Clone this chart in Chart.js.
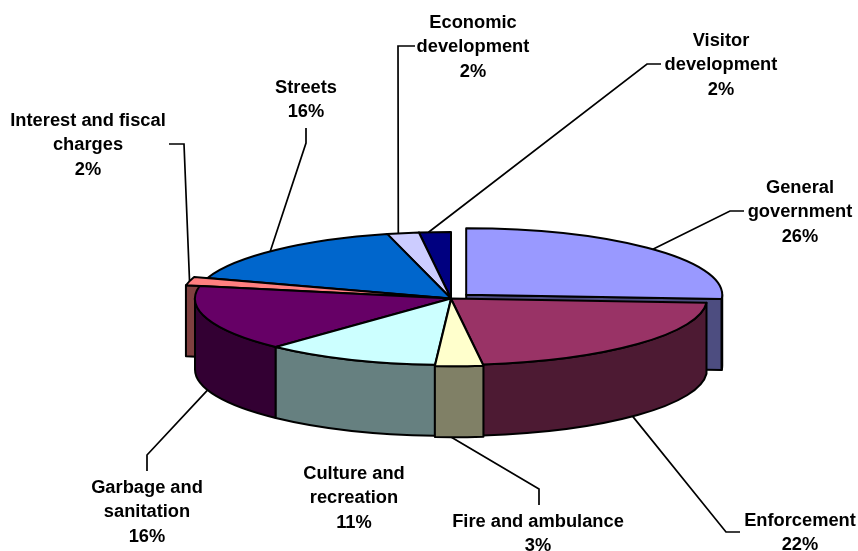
<!DOCTYPE html>
<html>
<head>
<meta charset="utf-8">
<title>Spending by function</title>
<style>
  html, body { margin: 0; padding: 0; background: #fff; }
  canvas { display: block; }
</style>
<script src="https://cdn.jsdelivr.net/npm/chart.js@4"></script>
</head>
<body>
<canvas id="spending" width="858" height="551"></canvas>
<script>
"use strict";

// data, clockwise from 12 o'clock
const categories = ['General government', 'Enforcement', 'Fire and ambulance', 'Culture and recreation',
  'Garbage and sanitation', 'Interest and fiscal charges', 'Streets', 'Economic development', 'Visitor development'];
const shares = [26, 22, 3, 11, 16, 2, 16, 2, 2];

// colours of the top faces and of the extruded sides
const topColors = ['#9999FF', '#993366', '#FFFFCC', '#CCFFFF', '#660066', '#FF8080', '#0066CC', '#CCCCFF', '#000080'];
const sideColors = ['#4D4D80', '#4D1A33', '#808066', '#668080', '#330033', '#804040', '#003366', '#666680', '#000040'];

// pulled out slices (Chart.js moves an arc by offset / 4)
const sliceOffsets = [84, 0, 10, 0, 0, 30, 0, 0, 0];

// label text wrapped per line, the percentage goes below it
const labelLines = [['General', 'government'], ['Enforcement'], ['Fire and ambulance'], ['Culture and', 'recreation'],
  ['Garbage and', 'sanitation'], ['Interest and fiscal', 'charges'], ['Streets'], ['Economic', 'development'], ['Visitor', 'development']];

// label centre x and first baseline y
const labelX = [800, 800, 538, 354, 147, 88, 306, 473, 721];
const labelY = [193, 526, 527, 479, 493, 126, 93, 28, 46];
const lineGap = 24.4;

// leader lines: label end and elbow, the last point is worked out on the rim
const leaderPaths = [
  [[744, 211], [730, 211]],
  [[740, 532], [726, 532]],
  [[539, 505], [539, 489]],
  null,
  [[147, 471], [147, 455]],
  [[169, 144], [184, 144]],
  [[306, 128], [306, 143]],
  [[415, 46], [398, 46]],
  [[661, 64], [647, 64]]
];

// how far along its slice's rim each leader lands
const leaderAlong = [0.5, 0.52, 0.66, 0.5, 0.5, 0.5, 0.47, 0.35, 0.3];

// the pie lying down: ellipse on the page and height of the rim
const pieX = 451;
const pieY = 298.5;
const pieRx = 256;
const pieRy = 66.5;
const pieDepth = 71;
const outlineWidth = 2;

// where an arc element ends up on the page once squashed
function sliceShape(arc) {
  const props = arc.getProps(['startAngle', 'endAngle', 'outerRadius', 'x', 'y'], true);
  const kx = pieRx / props.outerRadius;
  const ky = pieRy / props.outerRadius;
  const move = (arc.options.offset || 0) / 4;
  const mid = (props.startAngle + props.endAngle) / 2;
  const fix = 1 - Math.sin(Math.min(Math.PI, props.endAngle - props.startAngle));
  const radius = props.outerRadius + move * fix;
  return {
    start: props.startAngle,
    end: props.endAngle,
    mid: mid,
    x: pieX + Math.cos(mid) * move * kx,
    y: pieY + Math.sin(mid) * move * ky,
    rx: radius * kx,
    ry: radius * ky,
    kx: kx,
    ky: ky,
    cx: props.x,
    cy: props.y
  };
}

function drawWall(ctx, s, angle) {
  const px = s.x + Math.cos(angle) * s.rx;
  const py = s.y + Math.sin(angle) * s.ry;
  ctx.beginPath();
  ctx.moveTo(s.x, s.y);
  ctx.lineTo(px, py);
  ctx.lineTo(px, py + pieDepth);
  ctx.lineTo(s.x, s.y + pieDepth);
  ctx.closePath();
  ctx.fill();
  ctx.stroke();
}

function drawSide(ctx, s, color) {
  ctx.fillStyle = color;
  ctx.strokeStyle = '#000';
  ctx.lineWidth = outlineWidth;
  ctx.lineJoin = 'round';

  // only the walls turned towards the viewer
  if (Math.cos(s.start) < 0) drawWall(ctx, s, s.start);
  if (Math.cos(s.end) > 0) drawWall(ctx, s, s.end);

  // outer rim, lower half of the ellipse only
  const a0 = Math.max(s.start, 0);
  const a1 = Math.min(s.end, Math.PI);
  if (a1 > a0) {
    ctx.beginPath();
    ctx.ellipse(s.x, s.y, s.rx, s.ry, 0, a0, a1);
    ctx.ellipse(s.x, s.y + pieDepth, s.rx, s.ry, 0, a1, a0, true);
    ctx.closePath();
    ctx.fill();
    ctx.stroke();
  }
}

function drawTop(ctx, s, arc) {
  ctx.save();
  ctx.translate(pieX, pieY);
  ctx.scale(s.kx, s.ky);
  ctx.translate(-s.cx, -s.cy);
  arc.draw(ctx);
  ctx.restore();

  ctx.strokeStyle = '#000';
  ctx.lineWidth = outlineWidth;
  ctx.beginPath();
  ctx.moveTo(s.x, s.y);
  ctx.ellipse(s.x, s.y, s.rx, s.ry, 0, s.start, s.end);
  ctx.closePath();
  ctx.stroke();
}

function drawLeader(ctx, s, path, along) {
  const angle = s.start + (s.end - s.start) * along;
  const endX = s.x + Math.cos(angle) * s.rx;
  let endY = s.y + Math.sin(angle) * s.ry;
  if (Math.sin(angle) > 0) endY += pieDepth;
  ctx.strokeStyle = '#000';
  ctx.lineWidth = 1.7;
  ctx.lineJoin = 'miter';
  ctx.beginPath();
  ctx.moveTo(path[0][0], path[0][1]);
  ctx.lineTo(path[1][0], path[1][1]);
  ctx.lineTo(endX, endY);
  ctx.stroke();
}

function drawLabel(ctx, i) {
  ctx.fillStyle = '#000';
  ctx.font = 'bold 18.3px "Liberation Sans", Arial, sans-serif';
  ctx.textAlign = 'center';
  ctx.textBaseline = 'alphabetic';
  const lines = labelLines[i].concat(shares[i] + '%');
  lines.forEach((line, n) => {
    ctx.fillText(line, labelX[i], labelY[i] + n * lineGap);
  });
}

// replaces the flat drawing of the datasets with an extruded one
const extrudedPie = {
  id: 'extrudedPie',
  beforeDatasetsDraw(chart) {
    const ctx = chart.ctx;
    const arcs = chart.getDatasetMeta(0).data;
    const shapes = arcs.map(sliceShape);

    // back to front, so nearer slices cover the ones behind
    const order = arcs.map((a, i) => i).sort((a, b) => Math.sin(shapes[a].mid) - Math.sin(shapes[b].mid));

    leaderPaths.forEach((path, i) => {
      if (path) drawLeader(ctx, shapes[i], path, leaderAlong[i]);
    });
    order.forEach((i) => {
      drawSide(ctx, shapes[i], sideColors[i]);
      drawTop(ctx, shapes[i], arcs[i]);
    });
    categories.forEach((name, i) => drawLabel(ctx, i));
    return false;
  }
};

new Chart(document.getElementById('spending'), {
  type: 'pie',
  data: {
    labels: categories,
    datasets: [{
      data: shares,
      backgroundColor: topColors,
      offset: sliceOffsets,
      borderWidth: 0
    }]
  },
  options: {
    responsive: false,
    animation: false,
    radius: 258,
    plugins: {
      legend: { display: false },
      tooltip: { enabled: false }
    }
  },
  plugins: [extrudedPie]
});
</script>
</body>
</html>
